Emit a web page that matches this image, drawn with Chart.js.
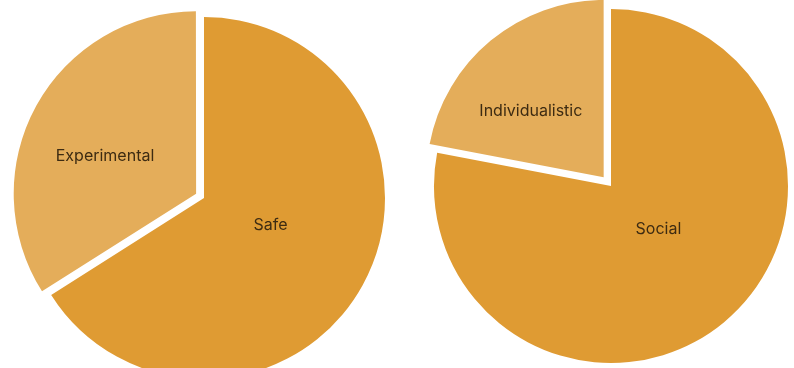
<!DOCTYPE html>
<html>
<head>
<meta charset="utf-8">
<script src="https://cdn.jsdelivr.net/npm/chart.js@4.4.1/dist/chart.umd.min.js"></script>
<style>
  html, body { margin: 0; padding: 0; background: #fff; overflow: hidden; }
  #wrap { position: relative; width: 794px; height: 368px; }
  canvas { position: absolute; top: 0; }
  #left { left: 0; }
  #right { left: 397px; }
</style>
</head>
<body>
<div id="wrap">
  <canvas id="left" width="397" height="368"></canvas>
  <canvas id="right" width="397" height="368"></canvas>
</div>
<script>
const riskLabels = ["Safe", "Experimental"];
const riskValues = [66, 34];

const styleLabels = ["Social", "Individualistic"];
const styleValues = [78, 22];

const bigColor = "#df9b33";
const smallColor = "#e4ad5a";

// label near the slice centroid, a bit flattened toward the horizontal
const sliceLabels = {
    id: "sliceLabels",
    afterDatasetsDraw(chart) {
        const ctx = chart.ctx;
        const meta = chart.getDatasetMeta(0);
        ctx.save();
        ctx.font = "16px Inter, 'Liberation Sans', sans-serif";
        ctx.fillStyle = "#3d2b12";
        ctx.textAlign = "center";
        ctx.textBaseline = "middle";
        meta.data.forEach((arc, i) => {
            const p = arc.getProps(["x", "y", "startAngle", "endAngle", "outerRadius"]);
            const off = (arc.options.offset || 0) / 4;
            const a = p.endAngle - p.startAngle;
            const mid = (p.startAngle + p.endAngle) / 2;
            let d = 4 * p.outerRadius * Math.sin(a / 2) / (3 * a);
            d = Math.max(d, p.outerRadius * 0.4) * 1.05;
            const x = p.x + Math.cos(mid) * (d + off);
            const y = p.y + Math.sin(mid) * off + Math.sin(mid) * d * 0.75;
            ctx.fillText(chart.data.labels[i], x, y);
        });
        ctx.restore();
    }
};

function makePie(id, labels, values, radius, padding, smallOffset) {
    return new Chart(document.getElementById(id), {
        type: "pie",
        data: {
            labels: labels,
            datasets: [{
                data: values,
                backgroundColor: [bigColor, smallColor],
                borderWidth: 0,
                offset: [0, smallOffset],
                hoverOffset: 0,
                radius: radius
            }]
        },
        options: {
            responsive: false,
            animation: false,
            devicePixelRatio: 1,
            layout: { padding: padding },
            plugins: {
                legend: { display: false },
                tooltip: { enabled: false }
            }
        },
        plugins: [sliceLabels]
    });
}

makePie("left", riskLabels, riskValues, 181, { left: 11, right: 0, top: 28, bottom: 0 }, 36);
makePie("right", styleLabels, styleValues, 177, { left: 31, right: 0, top: 4, bottom: 0 }, 46);
</script>
</body>
</html>
